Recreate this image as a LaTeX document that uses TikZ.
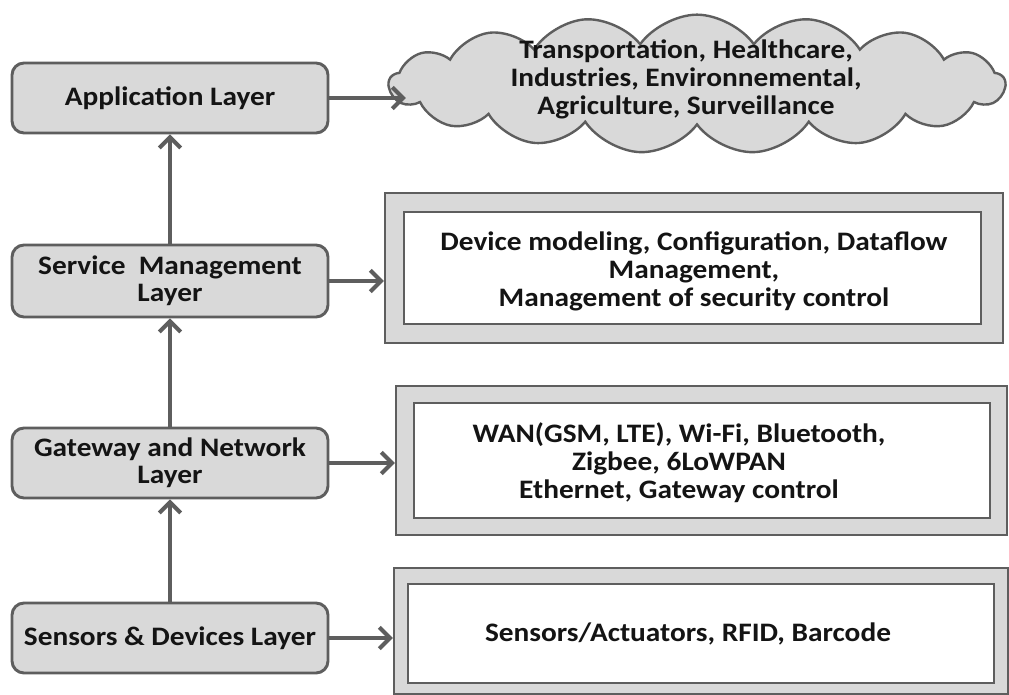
\documentclass[tikz,border=0pt]{standalone}
\usepackage{fontspec}
\setmainfont{Carlito}[FakeStretch=1.1]
\usetikzlibrary{arrows.meta,shapes.symbols}
\definecolor{edgegray}{HTML}{5E5E5E}
\definecolor{boxgray}{HTML}{D9D9D9}
\definecolor{inkdark}{HTML}{141414}
\tikzset{
  layerbox/.style={draw=edgegray, fill=boxgray, line width=2.2pt, rounded corners=9pt,
    minimum width=237pt, minimum height=52.5pt, align=center, text=inkdark,
    font=\bfseries\fontsize{20}{20.5}\selectfont},
  outerbox/.style={draw=edgegray, fill=boxgray, line width=1.8pt},
  innerbox/.style={draw=edgegray, fill=white, line width=2.2pt},
  infotext/.style={align=center, text=inkdark, font=\bfseries\fontsize{20}{21}\selectfont},
  flow/.style={draw=edgegray, line width=3pt, -{Straight Barb[length=8pt,width=16pt,line width=3pt]}}
}
\begin{document}
\begin{tikzpicture}[x=0.75pt,y=-0.75pt]
\useasboundingbox (0,0) rectangle (1009,695);

% layer boxes on the left
\node[layerbox] (app) at (170,98) {Application Layer};
\node[layerbox, minimum height=54pt] (sml) at (170,281) {Service\ \ Management\\Layer};
\node[layerbox] (gwl) at (170,463) {Gateway and Network\\Layer};
\node[layerbox] (sdl) at (170,638) {Sensors \& Devices Layer};

% application domains cloud
\node[cloud, cloud puffs=17, cloud puff arc=110, cloud ignores aspect,
      draw=edgegray, fill=boxgray, line width=1.8pt,
      minimum width=462pt, minimum height=104pt, inner sep=0pt] (cloud) at (697,84) {};
\node[infotext] (apptext) at (686,79)
  {Transportation, Healthcare,\\Industries, Environnemental,\\Agriculture, Surveillance};

% service management details
\node[outerbox, minimum width=463.5pt, minimum height=112.5pt] (smout) at (694,268) {};
\node[innerbox, minimum width=432.75pt, minimum height=84pt] (smin) at (692.5,268) {};
\node[infotext] (smtext) at (694,271)
  {Device modeling, Configuration, Dataflow\\Management,\\Management of security control};

% gateway and network details
\node[outerbox, minimum width=458.25pt, minimum height=111.75pt] (gwout) at (701.5,460.5) {};
\node[innerbox, minimum width=432pt, minimum height=86.25pt] (gwin) at (702,460.5) {};
\node[infotext] (gwtext) at (679,463)
  {WAN(GSM, LTE), Wi-Fi, Bluetooth,\\Zigbee, 6LoWPAN\\Ethernet, Gateway control};

% sensors and devices details
\node[outerbox, minimum width=460.5pt, minimum height=94.5pt] (sdout) at (701,631) {};
\node[innerbox, minimum width=439.5pt, minimum height=74.25pt] (sdin) at (701,633.5) {};
\node[infotext] (sdtext) at (688,634) {Sensors/Actuators, RFID, Barcode};

% upward flow between layers
\draw[flow] (sml.north) -- (app.south);
\draw[flow] (gwl.north) -- (sml.south);
\draw[flow] (sdl.north) -- (gwl.south);

% each layer to its details
\draw[flow] (app.east) -- ([xshift=14pt]app.east -| cloud.west);
\draw[flow] (sml.east) -- (sml.east -| smout.west);
\draw[flow] (gwl.east) -- (gwl.east -| gwout.west);
\draw[flow] (sdl.east) -- (sdl.east -| sdout.west);
\end{tikzpicture}
\end{document}
